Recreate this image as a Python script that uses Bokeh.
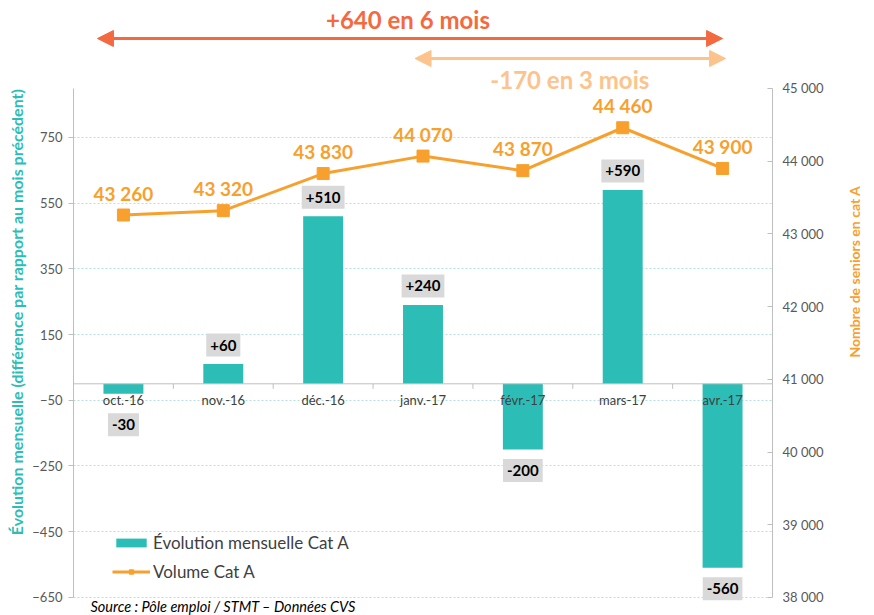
import math
from bokeh.plotting import figure
from bokeh.models import (Range1d, LinearAxis, FixedTicker, Label, Arrow, NormalHead,
                          Legend, LegendItem, Span)
from bokeh.embed import file_html
from bokeh.resources import INLINE
from bokeh.core.properties import value

# ---------------- data ----------------
months = ["oct.-16", "nov.-16", "déc.-16", "janv.-17", "févr.-17", "mars-17", "avr.-17"]
evolution = [-30, 60, 510, 240, -200, 590, -560]
volume = [43260, 43320, 43830, 44070, 43870, 44460, 43900]
left_ticks = [-650, -450, -250, -50, 150, 350, 550, 750]
right_ticks = [38000, 39000, 40000, 41000, 42000, 43000, 44000, 45000]

# ---------------- styles ----------------
FONT = "Lato"
TEAL = "#2CBDB7"
ORANGE = "#F8A02D"
RED_OR = "#F46A40"
PEACH = "#FDC38C"
GREY_AX = "#BFBFBF"
TXT = "#404040"

LEFT = (-705, 1142)
RIGHT = (37752, 46100)
FRAME_LEFT, FRAME_TOP, FRAME_H = 73, 8, 607
KL = (LEFT[1] - LEFT[0]) / FRAME_H    # left units per pixel
KR = (RIGHT[1] - RIGHT[0]) / FRAME_H  # right units per pixel


def ypx_left(ypx):
    """image pixel row -> left-axis data value"""
    return LEFT[1] - (ypx - FRAME_TOP) * KL


def ypx_right(ypx):
    return RIGHT[1] - (ypx - FRAME_TOP) * KR


def xpx(x):
    return (x - FRAME_LEFT) / 100.0


n = len(months)
xs = [i + 0.5 for i in range(n)]

p = figure(width=874, height=615, x_range=Range1d(0, n), y_range=Range1d(*LEFT),
           x_axis_location=None, toolbar_location=None, output_backend="svg",
           min_border_left=73, min_border_right=101, min_border_top=8, min_border_bottom=0,
           outline_line_color=None, background_fill_color="white")
p.extra_y_ranges = {"right": Range1d(*RIGHT)}

# grid
p.xgrid.visible = False
p.ygrid.ticker = FixedTicker(ticks=left_ticks)
p.ygrid.grid_line_color = "#B5E2DE"
p.ygrid.grid_line_dash = "2 2"

# left axis
ya = p.yaxis[0]
ya.ticker = FixedTicker(ticks=left_ticks)
ya.bounds = (-650, 899)
ya.axis_line_color = GREY_AX
ya.major_tick_line_color = GREY_AX
ya.major_tick_out = 5
ya.major_tick_in = 0
ya.minor_tick_line_color = None
ya.major_label_text_font = FONT
ya.major_label_text_font_size = "13px"
ya.major_label_text_color = "#595959"
ya.major_label_standoff = 6
ya.axis_label = "Évolution mensuelle (différence par rapport au mois précédent)"
ya.axis_label_text_font = FONT
ya.axis_label_text_font_size = "16px"
ya.axis_label_text_font_style = "bold"
ya.axis_label_text_color = TEAL
ya.axis_label_standoff = 3

# right axis
ra = LinearAxis(y_range_name="right", ticker=FixedTicker(ticks=right_ticks),
                bounds=(38000, 45000))
ra.major_label_overrides = {t: f"{t:,}".replace(",", " ") for t in right_ticks}
ra.axis_line_color = GREY_AX
ra.major_tick_line_color = GREY_AX
ra.major_tick_in = 5
ra.major_tick_out = 0
ra.minor_tick_line_color = None
ra.major_label_text_font = FONT
ra.major_label_text_font_size = "13px"
ra.major_label_text_color = "#595959"
ra.major_label_standoff = 10
p.add_layout(ra, "right")

# right axis title: a label-only axis so that it can sit off-centre like the original
title_pos = round(ypx_right(357))
rt = LinearAxis(y_range_name="right", ticker=FixedTicker(ticks=[title_pos]))
rt.major_label_overrides = {title_pos: "Nombre de seniors en cat A"}
rt.major_label_orientation = math.pi / 2
rt.axis_line_color = None
rt.major_tick_line_color = None
rt.minor_tick_line_color = None
rt.major_label_text_font = FONT
rt.major_label_text_font_size = "14px"
rt.major_label_text_font_style = "bold"
rt.major_label_text_color = ORANGE
rt.major_label_standoff = 22
p.add_layout(rt, "right")

# bars
bars = p.vbar(x=xs, top=evolution, bottom=0, width=0.4, fill_color=TEAL, line_color=None)

# category axis at zero
p.add_layout(Span(location=0, dimension="width", line_color=GREY_AX, line_width=1))
bnds = [float(i) for i in range(1, n)]
p.segment(x0=bnds, y0=[0] * len(bnds), x1=bnds, y1=[-5 * KL] * len(bnds), line_color=GREY_AX)
p.text(x=xs, y=[0] * n, text=months, text_align="center", text_baseline="top",
       y_offset=8, text_font=value(FONT), text_font_size="13px", text_color=TXT)

# bar labels (boxed, outside the bar end)
bar_labels = [f"{v:+d}" for v in evolution]
bar_label_y = [v + 19 * KL if v > 0 else min(v - 21 * KL, -41 * KL) for v in evolution]
p.text(x=xs, y=bar_label_y, text=bar_labels, text_align="center",
       text_baseline="middle", text_font=value(FONT), text_font_size="15px",
       text_font_style="bold", text_color="black", background_fill_color="#D9D9D9",
       padding=(4, 6))

# line
line = p.line(x=xs, y=volume, y_range_name="right", line_color=ORANGE, line_width=3)
pts = p.scatter(x=xs, y=volume, y_range_name="right", marker="square", size=12,
                fill_color=ORANGE, line_color=ORANGE)
vol_labels = [f"{v:,}".replace(",", " ") for v in volume]
p.text(x=xs, y=volume, y_range_name="right", text=vol_labels, y_offset=-22,
       text_align="center", text_baseline="middle", text_font=value(FONT),
       text_font_size="19px", text_font_style="bold", text_color=ORANGE)

# legend
legend = Legend(items=[LegendItem(label="Évolution mensuelle Cat A", renderers=[bars]),
                       LegendItem(label="Volume Cat A", renderers=[line, pts])],
                location=(39, 33), background_fill_alpha=0, border_line_color=None,
                glyph_width=38, glyph_height=11, label_text_font=FONT,
                label_text_font_size="17px", label_text_color=TXT, padding=0, margin=0,
                spacing=8, label_standoff=3)
p.add_layout(legend)

# arrows + annotations
a1 = Arrow(x_start=xpx(97), y_start=ypx_left(38), x_end=xpx(723), y_end=ypx_left(38),
           line_color=RED_OR, line_width=3,
           start=NormalHead(size=16, fill_color=RED_OR, line_color=RED_OR),
           end=NormalHead(size=16, fill_color=RED_OR, line_color=RED_OR))
a2 = Arrow(x_start=xpx(415), y_start=ypx_left(58), x_end=xpx(726), y_end=ypx_left(58),
           line_color=PEACH, line_width=3,
           start=NormalHead(size=16, fill_color=PEACH, line_color=PEACH),
           end=NormalHead(size=16, fill_color=PEACH, line_color=PEACH))
p.add_layout(a1)
p.add_layout(a2)
p.add_layout(Label(x=xpx(408), y=ypx_left(19), text="+640 en 6 mois", text_align="center",
                   text_baseline="middle", text_font=FONT, text_font_size="24px",
                   text_font_style="bold", text_color=RED_OR))
p.add_layout(Label(x=xpx(570), y=ypx_left(79), text="-170 en 3 mois", text_align="center",
                   text_baseline="middle", text_font=FONT, text_font_size="24px",
                   text_font_style="bold", text_color=PEACH))

# source
p.add_layout(Label(x=xpx(90), y=ypx_left(606), text="Source : Pôle emploi / STMT – Données CVS",
                   text_align="left", text_baseline="middle", text_font=FONT,
                   text_font_size="14.5px", text_font_style="italic", text_color="black"))

open("out.html", "w").write(file_html(p, INLINE))
